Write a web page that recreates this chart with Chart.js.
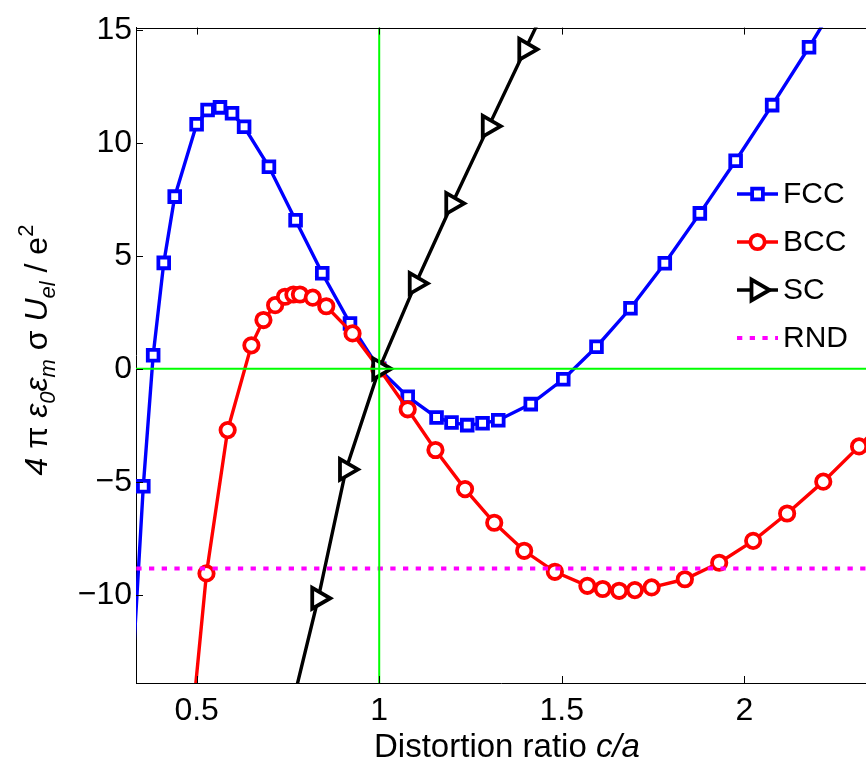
<!DOCTYPE html>
<html>
<head>
<meta charset="utf-8">
<script src="https://cdn.jsdelivr.net/npm/chart.js@4.4.1/dist/chart.umd.min.js"></script>
<style>
  html, body { margin: 0; padding: 0; background: #fff; }
  #wrap { width: 866px; height: 763px; }
</style>
</head>
<body>
<div id="wrap"><canvas id="chart" width="866" height="763"></canvas></div>
<script>
const FONT = "'Liberation Sans', Arial, Helvetica, sans-serif";

// axis limits and ticks
const X_MIN = 0.334, X_MAX = 2.333;
const Y_MIN = -13.9, Y_MAX = 15.1;
const xTicks = [0.5, 1, 1.5, 2];
const yTicks = [-10, -5, 0, 5, 10, 15];

// FCC (squares)
const fccX = [0.31, 0.354, 0.381, 0.410, 0.440, 0.500, 0.530, 0.564, 0.597, 0.630, 0.698, 0.771, 0.844, 0.920, 1.0,
  1.078, 1.157, 1.198, 1.241, 1.283, 1.326, 1.415, 1.504, 1.595, 1.688, 1.782, 1.878, 1.976, 2.076, 2.177, 2.277];
const fccY = [-17.4, -5.19, 0.60, 4.69, 7.62, 10.82, 11.45, 11.57, 11.31, 10.71, 8.94, 6.58, 4.23, 2.01, 0,
  -1.23, -2.15, -2.37, -2.49, -2.41, -2.27, -1.56, -0.46, 0.98, 2.68, 4.67, 6.88, 9.21, 11.67, 14.23, 16.9];

// BCC (circles)
const bccX = [0.465, 0.527, 0.585, 0.650, 0.683, 0.715, 0.742, 0.765, 0.783, 0.818, 0.855, 0.927, 1.0,
  1.078, 1.154, 1.235, 1.315, 1.397, 1.481, 1.570, 1.612, 1.657, 1.700, 1.746, 1.837, 1.931, 2.024, 2.117, 2.216, 2.314, 2.41];
const bccY = [-19.4, -9.05, -2.71, 1.04, 2.16, 2.82, 3.19, 3.29, 3.29, 3.15, 2.77, 1.57, 0,
  -1.79, -3.59, -5.32, -6.81, -8.05, -8.98, -9.60, -9.74, -9.82, -9.79, -9.67, -9.31, -8.58, -7.61, -6.40, -4.99, -3.43, -1.8];

// SC (triangles)
const scX = [0.769, 0.833, 0.909, 1.0, 1.1, 1.2, 1.3, 1.4, 1.5];
const scY = [-14.4, -10.15, -4.45, 0, 3.78, 7.32, 10.74, 14.14, 17.5];

// RND (flat level)
const rndX = [0.3, 2.4];
const rndY = [-8.83, -8.83];

// reference lines
const vLineX = [1, 1], vLineY = [Y_MIN, Y_MAX];
const hLineX = [X_MIN, X_MAX], hLineY = [0, 0];

const toPts = (xs, ys) => xs.map((x, i) => ({ x: x, y: ys[i] }));
const inView = (p) => p && p.x >= X_MIN && p.x <= X_MAX && p.y >= Y_MIN && p.y <= Y_MAX;
const radiusIn = (r) => (c) => (inView(c.raw) ? r : 0);

const LINE_W = 3.4, MARK_W = 3.8;
const seriesStyle = {
  FCC: { color: "#0000ff", pointStyle: "rect", radius: 7.6, rotation: 0 },
  BCC: { color: "#ff0000", pointStyle: "circle", radius: 7.2, rotation: 0 },
  SC: { color: "#000000", pointStyle: "triangle", radius: 12, rotation: 90 },
};

const markerSet = (label, xs, ys, order) => ({
  label: label,
  data: toPts(xs, ys),
  showLine: true,
  borderColor: seriesStyle[label].color,
  borderWidth: LINE_W,
  pointStyle: seriesStyle[label].pointStyle,
  pointRotation: seriesStyle[label].rotation,
  pointRadius: radiusIn(seriesStyle[label].radius),
  pointBorderWidth: MARK_W,
  pointBorderColor: seriesStyle[label].color,
  pointBackgroundColor: "#ffffff",
  order: order,
});

const plainLine = (label, xs, ys, color, width, dash, order) => ({
  label: label,
  data: toPts(xs, ys),
  showLine: true,
  borderColor: color,
  borderWidth: width,
  borderDash: dash,
  pointRadius: 0,
  order: order,
});

const fmtTick = (v) => (v < 0 ? "\u2212" + Math.abs(v) : String(v));

// inward tick marks + top border
const axisDecor = {
  id: "axisDecor",
  afterDraw(chart) {
    const { ctx, chartArea: a } = chart;
    const x = chart.scales.x, y = chart.scales.y;
    ctx.save();
    ctx.strokeStyle = "#000";
    ctx.lineWidth = 1;
    ctx.beginPath();
    ctx.moveTo(a.left, Math.round(a.top) + 0.5);
    ctx.lineTo(a.right, Math.round(a.top) + 0.5);
    x.ticks.forEach((t) => {
      const px = Math.round(x.getPixelForValue(t.value)) + 0.5;
      ctx.moveTo(px, a.bottom);
      ctx.lineTo(px, a.bottom - 7);
      ctx.moveTo(px, a.top);
      ctx.lineTo(px, a.top + 7);
    });
    y.ticks.forEach((t) => {
      const py = Math.round(y.getPixelForValue(t.value)) + 0.5;
      ctx.moveTo(a.left, py);
      ctx.lineTo(a.left + 7, py);
    });
    ctx.stroke();
    ctx.restore();
  },
};

// axis titles
const yLabelParts = [
  ["4", "italic", 0], [" ", "", 0], ["\u03c0", "", 0], [" ", "", 0],
  ["\u03b5", "italic", 0], ["0", "italic", 1], ["\u03b5", "italic", 0], ["m", "italic", 1],
  [" ", "", 0], ["\u03c3", "", 0], [" ", "", 0],
  ["U", "italic", 0], ["el", "italic", 1], [" ", "", 0], ["/", "", 0], [" ", "", 0],
  ["e", "", 0], ["2", "", 2],
];

const axisTitles = {
  id: "axisTitles",
  afterDraw(chart) {
    const ctx = chart.ctx;
    ctx.save();
    ctx.fillStyle = "#000";
    ctx.textBaseline = "alphabetic";
    ctx.textAlign = "left";

    // x title
    ctx.font = "33px " + FONT;
    const a1 = "Distortion ratio ";
    const w1 = ctx.measureText(a1).width;
    ctx.font = "italic 33px " + FONT;
    const a2 = "c/a";
    const w2 = ctx.measureText(a2).width;
    const x0 = 507 - (w1 + w2) / 2;
    ctx.font = "33px " + FONT;
    ctx.fillText(a1, x0, 757);
    ctx.font = "italic 33px " + FONT;
    ctx.fillText(a2, x0 + w1, 757);

    // y title, rotated
    const fontFor = (p) => (p[1] ? p[1] + " " : "") + (p[2] ? 22 : 32) + "px " + FONT;
    let total = 0;
    yLabelParts.forEach((p) => {
      ctx.font = fontFor(p);
      total += ctx.measureText(p[0]).width;
    });
    ctx.translate(47, 350);
    ctx.rotate(-Math.PI / 2);
    let cx = -total / 2;
    yLabelParts.forEach((p) => {
      ctx.font = fontFor(p);
      const dy = p[2] === 1 ? 8 : p[2] === 2 ? -14 : 0;
      ctx.fillText(p[0], cx, dy);
      cx += ctx.measureText(p[0]).width;
    });
    ctx.restore();
  },
};

// legend drawn like the original (line + marker)
const legendRows = ["FCC", "BCC", "SC", "RND"];
const legendBox = {
  id: "legendBox",
  afterDraw(chart) {
    const ctx = chart.ctx;
    ctx.save();
    legendRows.forEach((name, i) => {
      const cy = 194 + i * 48;
      ctx.lineWidth = LINE_W;
      if (name === "RND") {
        ctx.strokeStyle = "#ff00ff";
        ctx.lineWidth = 4;
        ctx.setLineDash([5.3, 7.4]);
      } else {
        ctx.strokeStyle = seriesStyle[name].color;
        ctx.setLineDash([]);
      }
      ctx.beginPath();
      ctx.moveTo(737, cy);
      ctx.lineTo(778, cy);
      ctx.stroke();
      ctx.setLineDash([]);
      if (seriesStyle[name]) {
        const s = seriesStyle[name];
        ctx.fillStyle = "#fff";
        ctx.strokeStyle = s.color;
        ctx.lineWidth = MARK_W;
        Chart.helpers.drawPoint(ctx, { pointStyle: s.pointStyle, rotation: s.rotation, radius: s.radius, borderWidth: MARK_W }, 757.5, cy);
      }
      ctx.fillStyle = "#000";
      ctx.font = "30px " + FONT;
      ctx.textBaseline = "middle";
      ctx.textAlign = "left";
      ctx.fillText(name, 783, cy + 1);
    });
    ctx.restore();
  },
};

new Chart(document.getElementById("chart"), {
  type: "scatter",
  data: {
    datasets: [
      plainLine("x=1", vLineX, vLineY, "#00ff00", 2, [], 0),
      plainLine("y=0", hLineX, hLineY, "#00ff00", 2, [], 0),
      plainLine("RND", rndX, rndY, "#ff00ff", 4, [5.3, 7.4], 1),
      markerSet("SC", scX, scY, 2),
      markerSet("BCC", bccX, bccY, 3),
      markerSet("FCC", fccX, fccY, 4),
    ],
  },
  options: {
    responsive: false,
    devicePixelRatio: 1,
    animation: false,
    layout: { padding: { top: 27.6, right: 0, bottom: 0, left: 0 } },
    plugins: { legend: { display: false }, tooltip: { enabled: false }, title: { display: false } },
    scales: {
      x: {
        type: "linear",
        min: X_MIN,
        max: X_MAX,
        afterBuildTicks: (s) => { s.ticks = xTicks.map((v) => ({ value: v })); },
        afterFit: (s) => { s.height = 80; },
        grid: { display: false, drawTicks: false },
        border: { display: true, color: "#000", width: 1 },
        ticks: {
          font: { family: FONT, size: 32 },
          color: "#000",
          padding: 9,
          maxRotation: 0,
          autoSkip: false,
          callback: (v) => fmtTick(v),
        },
      },
      y: {
        type: "linear",
        min: Y_MIN,
        max: Y_MAX,
        afterBuildTicks: (s) => { s.ticks = yTicks.map((v) => ({ value: v })); },
        afterFit: (s) => { s.width = 136; },
        grid: { display: false, drawTicks: false },
        border: { display: true, color: "#000", width: 1 },
        ticks: {
          font: { family: FONT, size: 32 },
          color: "#000",
          padding: 4,
          autoSkip: false,
          callback: (v) => fmtTick(v),
        },
      },
    },
  },
  plugins: [axisDecor, axisTitles, legendBox],
});
</script>
</body>
</html>
